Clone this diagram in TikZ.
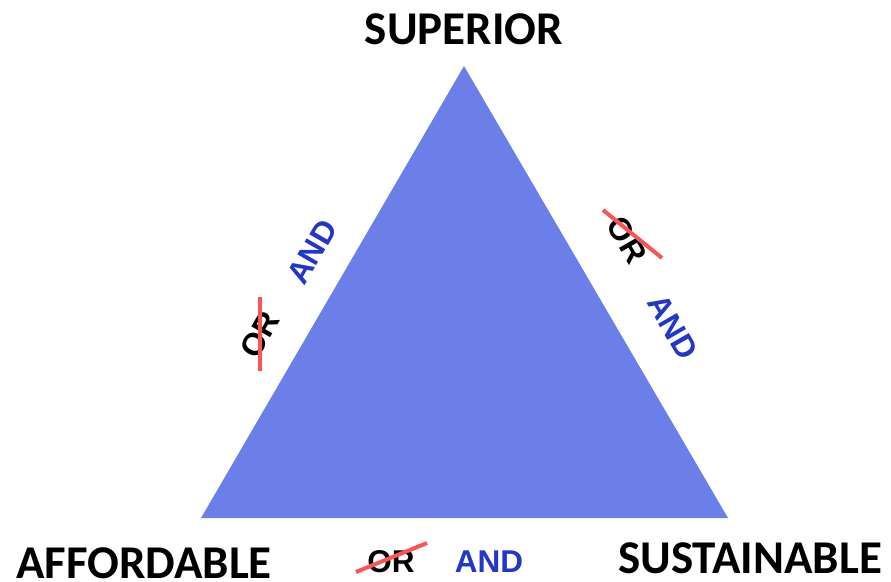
\documentclass[tikz,border=0pt]{standalone}
\usepackage{fontspec}
\setmainfont{Carlito}
\newfontfamily\arialfont{Liberation Sans Bold}
\usetikzlibrary{positioning, calc}
\usepackage{xcolor}
\definecolor{trifill}{RGB}{108,127,232}
\definecolor{andblue}{RGB}{34,54,200}
\definecolor{strikered}{RGB}{250,85,85}

\begin{document}
\begin{tikzpicture}[
    x=1pt, y=-1pt,
    corner/.style={font=\fontsize{47}{50}\selectfont\bfseries, inner sep=0pt},
    andword/.style={font=\arialfont\fontsize{31.5}{34}\selectfont, text=andblue, inner sep=0pt},
    orword/.style={font=\arialfont\fontsize{31.5}{34}\selectfont, inner sep=0pt},
    strike/.style={strikered, line width=4pt},
]
\useasboundingbox (0,0) rectangle (891,581);
\coordinate (apex) at (464,66);
\coordinate (baseL) at (201,518);
\coordinate (baseR) at (728,518);
\fill[trifill] (apex) -- (baseL) -- (baseR) -- cycle;

\node[corner] (sup) at (464,29) {SUPERIOR};
\node[corner] (aff) at (144,563) {AFFORDABLE};
\node[corner] (sus) at (750,558) {SUSTAINABLE};

% left side
\node[andword, rotate=60] (andL) at (312,252) {AND};
\node[orword, rotate=60] (orL) at (260,335) {OR};
\coordinate (strLa) at (260,297);
\coordinate (strLb) at (260,371);
\draw[strike] (strLa) -- (strLb);

% right side
\node[orword, rotate=-60] (orR) at (627,240) {OR};
\node[andword, rotate=-60] (andR) at (673,327) {AND};
\coordinate (strRa) at (603,210);
\coordinate (strRb) at (662,258);
\draw[strike] (strRa) -- (strRb);

% bottom
\node[orword] (orB) at (391,562) {OR};
\node[andword] (andB) at (489,562) {AND};
\coordinate (strBa) at (356,572);
\coordinate (strBb) at (427,543);
\draw[strike] (strBa) -- (strBb);
\end{tikzpicture}
\end{document}
